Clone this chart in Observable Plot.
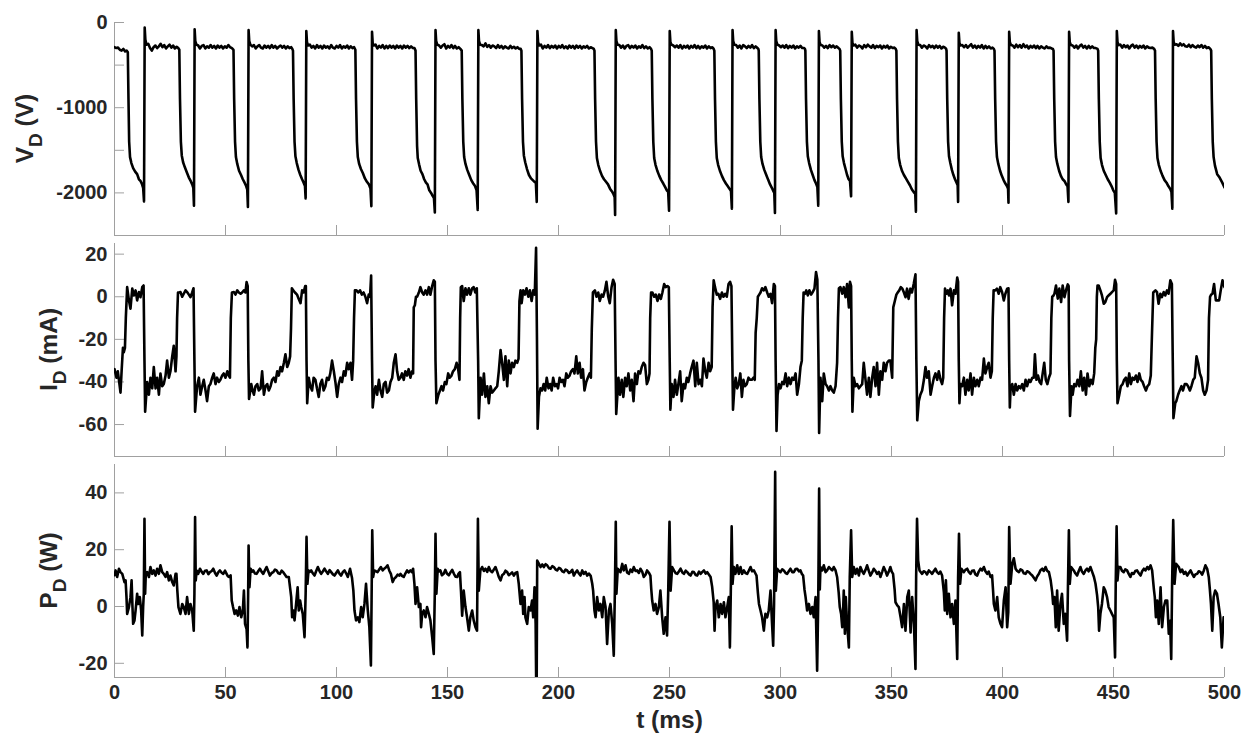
<!DOCTYPE html>
<html>
<head>
<meta charset="utf-8">
<script src="https://cdn.jsdelivr.net/npm/d3@7"></script>
<script src="https://cdn.jsdelivr.net/npm/@observablehq/plot@0.6"></script>
<style>
  body { margin: 0; background: #fff; }
  #chart { position: relative; width: 1244px; height: 740px; overflow: hidden; background: #fff; }
  #chart svg { position: absolute; left: 0; }
</style>
</head>
<body>
<div id="chart"></div>
<script>
// ---- axis ticks ----
const timeTicks = [0, 50, 100, 150, 200, 250, 300, 350, 400, 450, 500];
const vdTicks = [0, -500, -1000, -1500, -2000];
const vdTickLabels = [0, -1000, -2000];
const idTicks = [20, 0, -20, -40, -60];
const pdTicks = [40, 20, 0, -20];

// ---- discharge voltage V_D (V): [t (ms), V] ----
const vdPoints = [
[0,-290],[0.8,-300],[1.6,-295],[2.4,-320],[3.2,-330],[4,-310],[4.8,-340],[5.5,-330],
[6.0,-350],[6.3,-900],[6.6,-1400],[7.0,-1580],[7.6,-1650],[8.4,-1710],[9.3,-1750],[10.2,-1780],[11.0,-1840],[11.7,-1860],[12.3,-1890],[12.9,-1940],[13.3,-2100],[13.6,-60],[13.9,-200],[14.4,-260],
[15.2,-250],[16,-300],[16.8,-330],[17.6,-290],[18.4,-270],[19.2,-300],[20,-280],[20.8,-250],[21.6,-290],[22.4,-265],[23.2,-305],[24,-280],[24.8,-260],[25.6,-295],[26.4,-270],[27.2,-305],[28,-285],[28.7,-300],
[29.2,-320],[29.5,-900],[29.9,-1400],[30.3,-1560],[30.9,-1640],[31.7,-1700],[32.6,-1760],[33.5,-1820],[34.3,-1860],[35.0,-1900],[35.5,-1940],[35.8,-2150],[36.1,-80],[36.4,-220],[36.9,-260],
[37.7,-270],[38.5,-305],[39.3,-275],[40.1,-265],[40.9,-305],[41.7,-280],[42.5,-295],[43.3,-265],[44.1,-295],[44.9,-275],[45.7,-305],[46.5,-270],[47.3,-295],[48.1,-275],[48.9,-305],[49.7,-280],[50.5,-295],[51.3,-265],[52.1,-290],[52.9,-300],
[53.6,-320],[53.9,-900],[54.3,-1400],[54.7,-1580],[55.3,-1660],[56.1,-1740],[57,-1790],[57.8,-1840],[58.6,-1880],[59.3,-1920],[59.8,-1960],[60.1,-2165],[60.4,-90],[60.7,-220],[61.2,-260],
[62,-280],[62.8,-265],[63.6,-305],[64.4,-280],[65.2,-265],[66,-295],[66.8,-305],[67.6,-270],[68.4,-295],[69.2,-275],[70,-300],[70.8,-265],[71.6,-295],[72.4,-275],[73.2,-305],[74,-285],[74.8,-270],[75.6,-295],[76.4,-275],[77.2,-305],[78,-280],[78.8,-300],[79.6,-290],[80.1,-310],
[80.4,-330],[80.7,-900],[81.1,-1400],[81.5,-1570],[82.1,-1650],[82.9,-1730],[83.7,-1790],[84.5,-1840],[85.2,-1880],[85.8,-1920],[86.1,-2065],[86.4,-100],[86.7,-230],[87.2,-270],
[88,-260],[88.8,-295],[89.6,-275],[90.4,-305],[91.2,-265],[92,-295],[92.8,-275],[93.6,-305],[94.4,-270],[95.2,-295],[96,-280],[96.8,-305],[97.6,-265],[98.4,-295],[99.2,-305],[100,-275],[100.8,-295],[101.6,-265],[102.4,-305],[103.2,-280],[104,-295],[104.8,-270],[105.6,-305],[106.4,-280],[107.2,-300],[107.9,-290],
[108.5,-320],[108.8,-900],[109.2,-1400],[109.6,-1580],[110.2,-1660],[111,-1720],[111.9,-1770],[112.8,-1830],[113.7,-1870],[114.6,-1900],[115.3,-1950],[115.7,-2155],[116.0,-110],[116.3,-240],[116.8,-270],
[117.6,-260],[118.4,-305],[119.2,-275],[120,-295],[120.8,-265],[121.6,-305],[122.4,-275],[123.2,-300],[124,-270],[124.8,-295],[125.6,-275],[126.4,-305],[127.2,-270],[128,-295],[128.8,-275],[129.6,-305],[130.4,-270],[131.2,-295],[132,-275],[132.8,-300],[133.6,-280],[134.4,-300],[135.1,-300],
[135.6,-330],[135.9,-900],[136.3,-1450],[136.6,-1590],[137.2,-1665],[137.9,-1740],[138.7,-1780],[139.5,-1840],[140.3,-1880],[141,-1900],[141.8,-1970],[142.6,-2000],[143.3,-2035],[143.9,-2060],[144.3,-2230],[144.6,-90],[144.9,-220],[145.4,-260],
[146.2,-270],[147,-295],[147.8,-270],[148.6,-255],[149.4,-305],[150.2,-275],[151,-295],[151.8,-265],[152.6,-300],[153.4,-275],[154.2,-305],[155,-290],[155.8,-310],
[156.4,-330],[156.7,-900],[157.1,-1400],[157.5,-1580],[158.1,-1660],[158.9,-1730],[159.8,-1790],[160.7,-1850],[161.6,-1890],[162.4,-1920],[163.1,-1970],[163.6,-2200],[163.9,-90],[164.2,-220],[164.7,-260],
[165.5,-265],[166.3,-280],[167.1,-245],[167.9,-285],[168.7,-265],[169.5,-295],[170.3,-270],[171.1,-280],[171.9,-300],[172.7,-265],[173.5,-295],[174.3,-275],[175.1,-305],[175.9,-280],[176.7,-295],[177.5,-305],[178.3,-275],[179.1,-300],[179.9,-285],[180.7,-305],[181.5,-290],[182.3,-310],[183,-310],
[183.3,-330],[183.6,-900],[184,-1400],[184.4,-1560],[185,-1640],[185.8,-1720],[186.7,-1790],[187.6,-1830],[188.4,-1850],[189.2,-1870],[189.8,-1880],[190.2,-2105],[190.5,-100],[190.8,-230],[191.3,-270],
[192.1,-260],[192.9,-305],[193.7,-275],[194.5,-295],[195.3,-265],[196.1,-300],[196.9,-275],[197.7,-295],[198.5,-270],[199.3,-305],[200.1,-275],[200.9,-295],[201.7,-265],[202.5,-300],[203.3,-280],[204.1,-305],[204.9,-270],[205.7,-295],[206.5,-275],[207.3,-305],[208.1,-270],[208.9,-295],[209.7,-275],[210.5,-305],[211.3,-280],[212.1,-295],[212.9,-275],[213.7,-305],[214.5,-290],[215.3,-300],[215.9,-310],
[216.2,-330],[216.5,-900],[216.9,-1400],[217.3,-1590],[217.9,-1670],[218.7,-1740],[219.6,-1800],[220.5,-1840],[221.4,-1870],[222.3,-1900],[223.2,-1950],[224,-1980],[224.7,-2010],[225.3,-2050],[225.5,-2260],[225.8,-90],[226.1,-220],[226.6,-260],
[227.4,-265],[228.2,-295],[229,-270],[229.8,-305],[230.6,-275],[231.4,-265],[232.2,-300],[233,-275],[233.8,-295],[234.6,-270],[235.4,-305],[236.2,-280],[237,-295],[237.8,-265],[238.6,-300],[239.4,-280],[240.2,-305],[241,-290],[241.7,-310],
[242,-330],[242.3,-900],[242.7,-1400],[243.1,-1590],[243.7,-1670],[244.5,-1740],[245.4,-1800],[246.3,-1850],[247.2,-1890],[248,-1930],[248.8,-1970],[249.4,-1990],[249.8,-2210],[250.1,-100],[250.4,-230],[250.9,-260],
[251.7,-270],[252.5,-290],[253.3,-270],[254.1,-295],[254.9,-265],[255.7,-305],[256.5,-275],[257.3,-295],[258.1,-270],[258.9,-305],[259.7,-275],[260.5,-295],[261.3,-265],[262.1,-300],[262.9,-275],[263.7,-305],[264.5,-280],[265.3,-295],[266.1,-270],[266.9,-305],[267.7,-280],[268.5,-300],[269.3,-290],[269.9,-310],
[270.2,-330],[270.5,-900],[270.9,-1400],[271.3,-1590],[271.9,-1670],[272.7,-1740],[273.6,-1800],[274.5,-1850],[275.4,-1890],[276.2,-1920],[277,-1950],[277.7,-1980],[278.1,-2185],[278.4,-90],[278.7,-220],[279.2,-260],
[280,-265],[280.8,-295],[281.6,-270],[282.4,-305],[283.2,-265],[284,-280],[284.8,-300],[285.6,-275],[286.4,-295],[287.2,-265],[288,-300],[288.8,-280],[289.6,-300],[290,-310],
[290.2,-330],[290.5,-900],[290.9,-1400],[291.3,-1580],[291.9,-1660],[292.7,-1730],[293.6,-1790],[294.5,-1850],[295.3,-1900],[296.1,-1940],[296.8,-1980],[297.2,-2000],[297.5,-2235],[297.8,-90],[298.1,-220],[298.6,-260],
[299.4,-270],[300.2,-290],[301,-270],[301.8,-295],[302.6,-265],[303.4,-300],[304.2,-275],[305,-295],[305.8,-270],[306.6,-305],[307.4,-280],[308.2,-295],[309,-275],[309.8,-300],[310.6,-300],[311,-310],
[311.2,-330],[311.5,-900],[311.9,-1400],[312.3,-1570],[312.9,-1650],[313.7,-1730],[314.5,-1790],[315.3,-1850],[316,-1890],[316.6,-1930],[317,-2150],[317.3,-100],[317.6,-230],[318.1,-265],
[318.9,-270],[319.7,-295],[320.5,-275],[321.3,-300],[322.1,-265],[322.9,-290],[323.7,-270],[324.5,-295],[325.3,-280],[326.1,-300],[326.6,-310],
[326.9,-330],[327.2,-900],[327.6,-1400],[328,-1570],[328.6,-1650],[329.3,-1720],[330,-1790],[330.7,-1840],[331.3,-1860],[331.8,-2040],[332.1,-110],[332.4,-240],[332.9,-270],
[333.7,-260],[334.5,-295],[335.3,-270],[336.1,-280],[336.9,-305],[337.7,-265],[338.5,-290],[339.3,-260],[340.1,-280],[340.9,-295],[341.7,-265],[342.5,-300],[343.3,-275],[344.1,-290],[344.9,-270],[345.7,-305],[346.5,-275],[347.3,-295],[348.1,-270],[348.9,-305],[349.7,-285],[350.5,-300],[351.3,-295],[351.9,-310],
[352.2,-330],[352.5,-900],[352.9,-1400],[353.3,-1590],[353.9,-1670],[354.7,-1740],[355.6,-1790],[356.5,-1830],[357.4,-1870],[358.3,-1910],[359.2,-1960],[360,-1990],[360.7,-2010],[361,-2220],[361.3,-90],[361.6,-220],[362.1,-260],
[362.9,-265],[363.7,-295],[364.5,-270],[365.3,-280],[366.1,-305],[366.9,-265],[367.7,-290],[368.5,-275],[369.3,-300],[370.1,-270],[370.9,-295],[371.7,-275],[372.5,-305],[373.3,-285],[374.1,-295],[374.6,-310],
[374.8,-330],[375.1,-900],[375.5,-1400],[375.9,-1570],[376.5,-1650],[377.2,-1730],[377.9,-1790],[378.6,-1840],[379.3,-1880],[379.8,-1910],[380,-2105],[380.3,-120],[380.6,-240],[381.1,-270],
[381.9,-265],[382.7,-290],[383.5,-265],[384.3,-295],[385.1,-275],[385.9,-255],[386.7,-295],[387.5,-270],[388.3,-300],[389.1,-275],[389.9,-295],[390.7,-265],[391.5,-305],[392.3,-275],[393.1,-300],[393.9,-280],[394.7,-305],[395.5,-295],[396.1,-310],
[396.4,-330],[396.7,-900],[397.1,-1400],[397.5,-1580],[398.1,-1660],[398.9,-1740],[399.7,-1800],[400.5,-1850],[401.3,-1890],[402,-1920],[402.5,-1950],[402.7,-2115],[403,-110],[403.3,-230],[403.8,-265],
[404.6,-270],[405.4,-295],[406.2,-260],[407,-290],[407.8,-265],[408.6,-295],[409.4,-255],[410.2,-290],[411,-270],[411.8,-305],[412.6,-275],[413.4,-295],[414.2,-270],[415,-300],[415.8,-275],[416.6,-305],[417.4,-280],[418.2,-295],[419,-305],[419.8,-280],[420.6,-300],[421.4,-295],[422.2,-305],[422.7,-310],
[423,-330],[423.3,-900],[423.7,-1400],[424.1,-1580],[424.7,-1660],[425.5,-1740],[426.3,-1800],[427.1,-1840],[427.9,-1860],[428.7,-1900],[429.3,-1920],[429.7,-2105],[430,-110],[430.3,-230],[430.8,-265],
[431.6,-270],[432.4,-295],[433.2,-270],[434,-305],[434.8,-275],[435.6,-260],[436.4,-295],[437.2,-275],[438,-305],[438.8,-275],[439.6,-300],[440.4,-280],[441.2,-300],[442,-300],[442.8,-310],
[443.1,-330],[443.4,-900],[443.8,-1400],[444.2,-1590],[444.8,-1670],[445.6,-1740],[446.5,-1790],[447.4,-1840],[448.3,-1880],[449.1,-1920],[449.9,-1970],[450.6,-2000],[451.2,-2240],[451.5,-100],[451.8,-230],[452.3,-265],
[453.1,-260],[453.9,-295],[454.7,-265],[455.5,-290],[456.3,-270],[457.1,-305],[457.9,-275],[458.7,-260],[459.5,-295],[460.3,-270],[461.1,-300],[461.9,-275],[462.7,-295],[463.5,-270],[464.3,-305],[465.1,-280],[465.9,-295],[466.7,-300],[467.5,-295],[468.3,-310],
[468.7,-330],[469,-900],[469.4,-1400],[469.8,-1590],[470.4,-1670],[471.2,-1740],[472.1,-1800],[473,-1850],[473.9,-1880],[474.7,-1920],[475.5,-1950],[476.1,-1990],[476.5,-2185],[476.8,-100],[477.1,-230],[477.6,-260],
[478.4,-255],[479.2,-275],[480,-245],[480.8,-270],[481.6,-255],[482.4,-280],[483.2,-285],[484,-260],[484.8,-290],[485.6,-265],[486.4,-285],[487.2,-295],[488,-270],[488.8,-290],[489.6,-265],[490.4,-295],[491.2,-275],[492,-300],[492.8,-290],[493.6,-310],
[494,-330],[494.3,-900],[494.7,-1400],[495.1,-1580],[495.7,-1680],[496.7,-1780],[497.8,-1820],[499,-1880],[500,-1935]
];

// ---- discharge current I_D (mA): [t (ms), mA] ----
const idPoints = [
[0,-34],[0.9,-38],[1.5,-35],[2.1,-40],[2.7,-45],[3.2,-35],[3.8,-24],[4.2,-26],[4.7,-24],[5.1,-10],[5.7,4.5],
[6.5,-1.7],[7.2,-5.6],[8,3.8],[8.7,0.6],[9.5,3],[10.2,-1.7],[11,2.2],[11.7,-0.2],[12.5,4.5],[13.1,5.3],
[13.5,-30],[13.8,-54],
[14.7,-40],[15.5,-46],[16.2,-38],[17,-43],[17.7,-33],[18.5,-43],[19.2,-38],[20,-46],[20.7,-36],[21.5,-42],[22.2,-41],[23,-37],[23.7,-30],[24.5,-38],[25.2,-35],[26,-28],[26.7,-23],[27.5,-35],[27.9,-28],
[28.2,-10],[28.6,2],
[29.2,2],[29.7,2.2],[30.5,0],[31.2,1.4],[32,3],[32.7,2.2],[33.5,1],[34.2,-0.2],[35,2],[35.6,4],
[36,-30],[36.3,-54],
[37.2,-42],[38,-38],[38.7,-46],[39.5,-42],[40.2,-39],[41,-44],[41.7,-49],[42.5,-42],[43.2,-41],[44,-38],[44.7,-36],[45.5,-41],[46.2,-38],[47,-40],[47.7,-39],[48.5,-37],[49.2,-36],[50,-38],[50.8,-35],[51.5,-37],[52,-38],
[52.4,-10],[52.9,2],
[53.8,2.2],[54.5,1],[55.3,3],[56,2],[56.8,1.4],[57.5,2],[58.3,3],[59,2],[59.5,6.9],[60,5],
[60.3,-30],[60.6,-48],
[61.6,-41],[62.2,-44],[62.8,-46],[63.5,-42],[64.3,-41],[65,-44],[65.8,-43],[66.5,-35],[67.3,-46],[68,-42],[68.8,-41],[69.5,-44],[70.3,-42],[71,-39],[71.8,-38],[72.5,-40],[73.3,-35],[74,-37],[74.8,-33],[75.5,-35],[76.3,-31],[77,-27],[77.8,-33],[78.5,-31],[79.1,-28],
[79.5,-15],[79.9,4],
[80.5,3],[81.3,2],[82.2,1],[83,-1],[83.8,-3],[84.5,3],[85.2,2],[85.9,5],[86.2,5],
[86.5,-30],[86.8,-50],
[87.5,-38],[88.2,-42],[89,-44],[89.7,-38],[90.5,-39],[91.2,-43],[92,-47],[92.7,-41],[93.5,-39],[94.2,-44],[95,-42],[95.7,-38],[96.5,-39],[97.2,-36],[98,-30],[98.8,-35],[99.5,-40],[100.3,-47],[101,-41],[101.8,-38],[102.5,-40],[103.3,-35],[104,-37],[104.8,-31],[105.5,-34],[106.3,-31],[107,-39],[107.5,-30],
[107.9,-10],[108.3,3],
[109,3],[109.8,2],[110.6,3],[111.4,1],[112.2,2],[113,0],[113.8,-3],[114.5,1],[115.1,0],[115.6,10],
[116,-30],[116.3,-52],
[117,-45],[117.6,-42],[118.3,-46],[119.1,-39],[119.8,-44],[120.6,-47],[121.3,-41],[122.1,-40],[122.8,-45],[123.6,-44],[124.3,-40],[125.1,-38],[125.8,-31],[126.6,-27],[127.3,-35],[128,-39],[128.8,-38],[129.5,-36],[130.3,-39],[131,-35],[131.8,-37],[132.5,-34],[133.3,-38],[134,-35],[134.5,-36],
[134.8,-5],[135.3,-4],[135.8,0],
[136.3,0],[137.1,2],[137.8,4.5],[138.6,2],[139.3,1],[140.1,3],[140.8,1],[141.6,4.5],[142.3,1],[143.1,5],[143.8,7.7],[144.3,7],
[144.6,-30],[145,-50],
[145.9,-46],[146.6,-44],[147.3,-42],[148,-44],[148.8,-40],[149.5,-41],[150.3,-36],[151,-38],[151.8,-37],[152.5,-35],[153.3,-34],[154.1,-31],[154.8,-34],[155.4,-39],
[155.7,-10],[156,4.5],
[156.6,5],[157.3,-2],[158.1,4],[158.8,1],[159.6,4],[160.3,1],[161.1,4],[161.8,4.5],[162.5,2],[163.2,4],
[163.8,-30],[164.1,-57],
[164.9,-38],[165.6,-46],[166.4,-36],[167.1,-47],[167.9,-42],[168.6,-50],[169.4,-42],[170.1,-45],[170.9,-44],[171.6,-43],[172.4,-42],[173.1,-35],[173.9,-25],[174.6,-31],[175.4,-39],[176.1,-28],[176.9,-42],[177.6,-30],[178.4,-36],[179.1,-31],[179.9,-33],[180.6,-30],[181.4,-31],[182,-29],
[182.4,-2],[182.9,3],
[183.4,-3],[184.1,3],[184.9,1],[185.6,4],[186.4,0],[187.1,3],[187.9,-2],[188.6,3],[189.3,1],[189.9,23],[190.3,-20],[190.6,-62],
[191.2,-47],[191.9,-43],[192.6,-44],[193.3,-41],[194,-44],[194.7,-38],[195.5,-43],[196.2,-41],[196.9,-44],[197.6,-38],[198.4,-42],[199.1,-41],[199.8,-43],[200.5,-38],[201.3,-40],[202,-39],[202.7,-42],[203.5,-36],[204.2,-38],[205,-37],[205.7,-35],[206.5,-34],[207.2,-36],[208,-28],[208.7,-36],[209.5,-31],[210.2,-38],[211,-34],[211.7,-44],[212.5,-40],[213.2,-38],[214,-36],[214.6,-38],
[215,-15],[215.5,2],
[216.4,3],[217.1,0],[217.9,2],[218.6,-2],[219.4,1],[220.1,0],[220.9,3],[221.6,7],[222.4,0],[223.1,-3],[223.9,4.5],[224.6,8],[225.3,6],
[225.7,-30],[226,-55],
[227,-38],[227.7,-46],[228.5,-39],[229.2,-47],[230,-38],[230.7,-42],[231.5,-36],[232.3,-44],[233,-39],[233.8,-49],[234.5,-36],[235.3,-41],[236,-35],[236.8,-36],[237.5,-33],[238.3,-31],[239,-32],[239.8,-41],[240.5,-39],[241,-36],
[241.3,-10],[241.7,2],
[242.3,2],[243.1,0],[243.8,1],[244.6,-2],[245.3,1],[246.1,-1],[246.8,2],[247.6,6],[248.3,4.5],[249.1,5],[249.7,4.5],
[250.1,-30],[250.4,-53],
[251,-41],[251.8,-47],[252.5,-39],[253.3,-46],[254,-41],[254.8,-35],[255.5,-49],[256.3,-41],[257,-43],[257.8,-38],[258.5,-40],[259.3,-36],[260,-33],[260.8,-30],[261.6,-42],[262.3,-31],[263.1,-41],[263.8,-39],[264.6,-42],[265.3,-29],[266.1,-35],[266.8,-38],[267.6,-31],[268.3,-35],[269,-33],
[269.4,-5],[269.9,7.7],
[270.5,4.5],[271.3,1],[272,1.4],[272.8,-1],[273.6,2],[274.3,0],[275.1,1.4],[275.8,0],[276.6,6],[277.3,7],[277.9,5],
[278.3,-30],[278.6,-53],
[279.2,-43],[279.8,-38],[280.5,-43],[281.2,-41],[281.9,-36],[282.6,-47],[283.3,-39],[284,-42],[284.8,-41],[285.6,-38],[286.3,-39],[287.1,-39],[287.8,-38],[288.4,-39],
[288.8,-17],[289.3,-10],[289.8,0],
[290.4,1],[291,2],[291.7,4],[292.5,3],[293.2,4.5],[294,2],[294.7,0],[295.5,1.4],[296.2,-3],[297,6],[297.5,5],
[297.8,-30],[298.2,-63],
[298.7,-46],[299.3,-41],[300,-43],[300.8,-40],[301.5,-41],[302.3,-36],[303,-42],[303.8,-38],[304.5,-41],[305.3,-38],[306,-39],[306.8,-36],[307.5,-46],[308.3,-41],[309,-33],[309.6,-30],
[310,-10],[310.4,2],
[311,1.4],[311.6,3],[312.3,0.6],[313,3],[313.8,1],[314.5,2.2],[315.3,3.8],[316,11.6],[316.6,8],
[317.1,-30],[317.4,-64],
[318,-38],[318.8,-49],[319.5,-36],[320.3,-41],[321,-42],[321.8,-44],[322.5,-42],[323.3,-44],[324,-45],[324.8,-42],[325.5,-31],
[325.9,-10],[326.3,4],
[327,4.5],[327.8,1.4],[328.5,4.5],[329.3,-0.2],[330,6],[330.8,-5],[331.3,7],[331.8,5],
[332.1,-30],[332.4,-54],
[333,-38],[333.8,-42],[334.5,-41],[335.3,-43],[336,-42],[336.8,-41],[337.5,-31],[338.3,-39],[339,-46],[339.8,-38],[340.5,-47],[341.3,-38],[342,-33],[342.8,-42],[343.5,-31],[344.3,-46],[345,-35],[345.8,-39],[346.5,-31],[347.3,-35],[348,-31],[348.8,-30],[349.5,-30],[350.3,-38],
[350.8,-5],[351.5,-2],[352.2,1],
[352.8,2],[353.5,3],[354.2,4.5],[354.9,3.8],[355.6,2],[356.3,-0.2],[357,3.8],[357.7,-1],[358.5,3.8],[359.2,2],[360,6],[360.8,10.5],
[361.2,-30],[361.6,-58],
[362.3,-49],[363,-46],[363.8,-44],[364.6,-39],[365.3,-33],[366,-38],[366.8,-35],[367.6,-46],[368.3,-42],[369.1,-38],[369.8,-36],[370.6,-39],[371.3,-35],[372.1,-39],[372.8,-41],[373.3,-38],
[373.7,-10],[374.1,3.8],
[374.8,1.4],[375.4,3],[375.9,0.6],[376.6,3.8],[377.3,-4],[378.1,3],[378.8,1.4],[379.6,9],[380,7],
[380.3,-30],[380.6,-50],
[381.1,-41],[381.8,-42],[382.6,-38],[383.3,-46],[384.1,-39],[384.8,-44],[385.6,-36],[386.3,-46],[387.1,-38],[387.8,-42],[388.6,-39],[389.3,-42],[390.1,-38],[390.8,-39],[391.6,-29],[392.3,-36],[393.1,-33],[393.8,-31],[394.6,-38],[395.2,-35],
[395.6,-10],[396,3],
[396.8,3],[397.5,3.8],[398.3,1.4],[399,4.5],[399.8,2.2],[400.6,-1.7],[401.3,1.4],[402.1,3.8],[402.7,4],
[403,-30],[403.3,-52],
[403.6,-44],[404.4,-41],[405.1,-46],[405.9,-41],[406.6,-44],[407.4,-42],[408.1,-43],[408.9,-41],[409.6,-44],[410.4,-39],[411.1,-42],[411.9,-39],[412.6,-40],[413.4,-38],[414.1,-38],[414.6,-27],[415.3,-39],[416,-37],[416.7,-40],[417.4,-41],[418.1,-36],[418.8,-31],[419.5,-39],[420.2,-41],[420.9,-38],[421.6,-36],
[422,-10],[422.4,0],
[423,0.6],[423.4,1.4],[424.1,5.3],[424.9,-0.9],[425.6,3.8],[426.4,-2.5],[427.1,5.3],[427.9,-0.2],[428.6,3],[429.4,5.8],[429.8,5],
[430,-30],[430.4,-56],
[431.1,-42],[431.6,-46],[432.3,-41],[433.1,-42],[433.8,-39],[434.6,-42],[435.3,-35],[436.1,-44],[436.8,-38],[437.6,-46],[438.3,-36],[439.1,-42],[439.8,-39],[440.6,-41],[441.3,-36],[441.8,-24],[442.2,-20],
[442.5,0],[442.8,5.3],
[443.3,5.3],[444.1,3],[444.8,0.6],[445.6,-3.3],[446.3,-2.5],[447.1,-0.2],[447.8,0.6],[448.6,1.4],[449.3,2.2],[450.1,3],[450.7,8],[451.2,6],
[451.5,-30],[451.8,-50],
[452.6,-46],[453.3,-42],[454.1,-41],[454.8,-39],[455.6,-38],[456.3,-42],[457.1,-36],[457.8,-41],[458.6,-38],[459.3,-39],[460.1,-37],[460.8,-40],[461.6,-36],[462.3,-39],[463.1,-40],[463.8,-42],[464.6,-44],[465.3,-42],[466.1,-41],[466.8,-37],
[467.4,-15],[467.9,2],
[468.9,3],[469.6,2.2],[470.3,-3.3],[471.1,1.4],[471.8,-0.2],[472.6,2.2],[473.3,0.6],[474.1,3],[474.8,1.4],[475.6,7.7],[476.3,6],
[476.7,-30],[477,-57],
[477.8,-50],[478.3,-49],[479.1,-46],[479.8,-44],[480.6,-42],[481.3,-44],[482.1,-41],[482.9,-41],[483.6,-42],[484.4,-44],[485.1,-42],[485.9,-39],[486.6,-38],[487.4,-28],[488.1,-31],[488.9,-36],[489.6,-38],[490.4,-44],[491.1,-46],[491.9,-44],[492.6,-39],
[493,-10],[493.5,0],
[494,1],[494.6,1.4],[495.3,6],[496.1,-1.7],[496.8,-1.7],[497.6,-1.7],[498.3,3],[499.1,7.7],[500,4.5]
];

// ---- discharge power P_D (W): [t (ms), W] ----
const pdPoints = [
[0,11],[0.5,12.7],[1.2,10.4],[2,13.3],[2.7,12.1],[3.5,11.5],[4.5,8.6],[5,9.2],
[5.4,3.3],[5.7,-2.6],[6.5,-0.2],[7.2,3.3],[7.7,9.2],[8.1,-0.2],[8.4,-6.1],[9,-4.9],[9.5,-1.4],[10.2,4.5],[10.7,0.9],[11.4,3.3],[12,-1.4],[12.5,-10.2],[12.9,-0.2],[13.2,4.5],[13.5,30.9],[13.8,4.5],[14.1,11.5],
[14.7,12.1],[15.5,10.4],[16.2,13.9],[17,11.5],[17.7,12.7],[18.5,10.9],[19.2,13.3],[20,11.5],[20.7,14.5],[21.5,12.1],[22.2,11.5],[23,10.4],[23.7,12.1],[24.5,9.2],[25.2,10.9],[26,8.6],[26.7,7.4],[27.5,11.5],[27.9,11.5],
[28.3,5.6],[28.8,-0.2],[29.7,-2.6],[30.5,0.9],[31.2,-0.2],[32,-2.6],[32.7,3.3],[33.5,-2.6],[34.2,0.9],[35,-1.4],[35.7,-8.5],[36,4.5],[36.3,31.5],[36.6,9.2],[37,12.7],
[37.7,11.5],[38.5,13.3],[39.3,12.2],[40,11.5],[40.8,12.6],[41.5,12.7],[42.3,11.4],[43,12.1],[43.8,12.5],[44.5,13.3],[45.3,11.8],[46,10.9],[46.8,12.1],[47.5,12.7],[48.3,11.9],[49,11.5],[49.8,12.6],[50.5,11.5],[51.1,10.6],[51.7,10.4],[52.3,11],
[52.8,2.1],[53.4,-0.2],[54.1,-2.6],[54.8,-1.4],[55.6,-3.2],[56.3,-0.2],[57.1,-3.8],[57.8,-1.4],[58.3,5.6],[58.8,-6.1],[59.5,-8],[59.9,-14.4],[60.2,4.5],[60.4,21.5],[60.8,6.8],[61.3,13.3],
[62,12.3],[62.5,12.7],[63.3,11.6],[64,11.5],[64.8,12.5],[65.5,13.3],[66.3,12.2],[67,11.5],[67.8,12.8],[68.5,13.9],[69.3,12.3],[70,10.9],[70.8,11.8],[71.5,12.1],[72.3,13],[73,12.7],[73.8,11.7],[74.5,11.5],[75.3,12.6],[76,12.1],[76.8,11.2],[77.5,10.4],[78.5,10.4],
[79.6,3.3],[80,-3.8],[80.6,-1.4],[81.1,-4.9],[81.8,0.9],[82.5,6.8],[83,-1.4],[83.6,2.1],[84.1,-0.2],[84.8,-2.6],[85.6,-10.8],[86.1,4.5],[86.5,24.5],[86.9,8],[87.4,12.7],
[88,12.2],[88.6,12.7],[89.4,11.6],[90.1,10.9],[90.9,12.6],[91.6,13.9],[92.4,12.4],[93.1,11.5],[93.9,12.4],[94.6,13.3],[95.4,12.3],[96.1,11.5],[96.9,12.8],[97.6,12.1],[98.4,11.3],[99.1,10.9],[99.9,11.9],[100.6,12.7],[101.4,11.5],[102.1,10.9],[102.9,12.2],[103.6,12.7],[104.4,11.6],[105.1,10.4],[106.1,13.3],[107,10],
[107.6,5.6],[108.1,-1.4],[108.8,-4.9],[109.6,-3.8],[110.3,-5.5],[111.1,-0.2],[111.8,-3.8],[112.6,0.9],[113.3,8],[114.1,-1.4],[114.8,-7.3],[115.5,-20.8],[115.8,2.1],[116.1,26.8],[116.5,10.4],[117,12.7],
[117.8,12.4],[118.5,12.1],[119.3,13.1],[120,13.9],[120.8,12.7],[121.5,13.3],[122.3,13.8],[123,14.5],[123.8,12.6],[124.5,11.5],[125.3,8.6],[126,9.8],[126.8,10.4],[127.5,11.2],[128.3,10.9],[128.8,11.5],[129.5,10.8],[130.3,10.4],[131,11.6],[131.8,12.7],[132.5,12],[133.3,12.7],[134,12.1],[134.5,13.3],[135.1,8],
[135.6,0.9],[136.3,6.8],[137.1,-0.2],[137.8,0.9],[138.1,-7.3],[138.6,-2.6],[139.3,-1.4],[140.1,-3.8],[140.8,-0.2],[141.6,-2.6],[142.3,-4.9],[143.1,-10.8],[143.8,-16.7],[144.3,5.6],[144.6,25.6],[145,4.5],[145.6,13.3],
[146.2,12.4],[146.8,12.7],[147.5,11],[148.3,11.5],[149,12.9],[149.8,11.5],[150.6,11],[151.4,12.1],[152.1,12.9],[152.9,11.5],[153.6,10.5],[154.4,10.4],[155,11.6],[155.6,12.1],
[156.1,5],[156.6,-3.2],[157.3,5.6],[158.1,-0.2],[158.8,-3.8],[159.6,-8.5],[160.3,-3.8],[161.1,-1.4],[161.8,-4.9],[162.6,-7.3],[163.3,-8.5],[163.7,30.9],[164.1,5.6],[164.8,12.7],
[165.6,13.9],[166.4,12.5],[167.1,13.3],[167.9,12.2],[168.6,13.9],[169.4,12.5],[170.1,12.1],[170.9,13],[171.6,13.9],[172.4,12.2],[173.1,10.4],[173.9,9.2],[174.6,11],[175.4,11.5],[176.1,12.6],[176.9,12.1],[177.6,11],[178.4,11.5],[179.1,12],[179.9,10.9],[180.6,11.8],[181.4,12.1],[182.1,8],
[182.9,0.9],[183.6,5.6],[184.1,-2.6],[184.7,3.3],[185.1,-3.8],[185.9,-6.1],[186.6,-0.2],[187.4,-1.4],[188.1,2.1],[188.6,-3.8],[189.2,6.8],[189.7,-6.1],[190.1,-40],[190.4,16.2],
[191.2,15],[191.9,13.9],[192.7,14.8],[193.4,13.9],[194.2,14.9],[194.9,14.5],[195.7,13.5],[196.4,13.3],[197.2,14.2],[197.9,13.9],[198.7,13],[199.4,12.7],[200.2,13.6],[200.9,13.3],[201.7,12.4],[202.4,12.1],[203.2,13],[203.9,12.7],[204.7,11.8],[205.4,12.1],[206.2,12.9],[206.9,10.9],[207.7,12],[208.4,12.7],[209.2,11.6],[209.9,10.9],[210.7,12.7],[211.4,11.5],[212.2,12.2],[212.9,10.9],[213.7,11.6],[214.5,10.8],
[215.2,8],[215.6,5.6],[216.2,-1.4],[216.7,-3.8],[217.4,3.3],[218.2,-1.4],[218.9,0.9],[219.7,-3.8],[220.4,3.3],[221.2,-0.2],[221.9,-13.2],[222.7,-1.4],[223.4,0.9],[224.2,-6.1],[224.9,-17.3],[225.4,5.6],[225.8,29.8],[226.1,4.5],[226.7,13.3],
[227.9,12.1],[228.7,15],[229.4,12.7],[230.2,14.5],[230.9,12],[231.7,11.5],[232.4,13],[233.2,12.2],[233.9,13.9],[234.7,12.5],[235.4,12.7],[236.2,11.8],[236.9,13.3],[237.7,12.3],[238.4,10.4],[239.2,11.2],[239.9,12.7],[240.7,11.9],[241.4,10.9],
[241.8,6],[242.2,2.1],[242.9,-1.4],[243.7,0.9],[244.4,-2.6],[245.2,-0.2],[245.9,5.6],[246.7,-3.8],[247.4,-9.6],[248.2,-3.8],[248.9,-10.2],[249.4,4.5],[250,29.8],[250.5,5.6],[251.2,13.9],
[252,12.7],[252.8,11.7],[253.5,11.5],[254.3,12.4],[255,13.3],[255.8,12],[256.5,11.5],[257.3,12.6],[258,12.1],[258.8,11.3],[259.5,10.9],[260.3,12.2],[261,12.1],[261.8,11.1],[262.5,10.9],[263.3,12.3],[264,11.5],[264.8,12.2],[265.5,12.7],[266.3,11.6],[267,12.1],[267.8,11.2],[268.5,10.4],
[269.2,7],[269.9,1.5],[270.3,-8.5],[270.7,-0.2],[271.5,2.1],[272.2,-3.8],[273,0.9],[273.7,-2.6],[274.5,1.5],[275.2,-3.8],[276,-0.2],[276.7,3.3],[277.2,-14.4],[277.6,4.5],[278,28.2],[278.4,8],[279,13.9],
[279.7,11.5],[280.5,14.5],[281.2,11.5],[282,13.9],[282.7,11.5],[283.5,12.7],[284.2,11.8],[285,11.5],[285.7,12.6],[286.5,13.9],[287.2,12.4],[288,12.7],[288.6,11.8],[289.2,10.9],
[289.8,5],[290.3,0.9],[291,-1.4],[291.7,-3.8],[292.5,-8.5],[293.2,-2.6],[294,-3.8],[294.7,-1.4],[295.5,5.6],[296.2,-6.1],[296.7,-13.8],[297.1,0.9],[297.6,47.4],[297.9,5.6],[298.5,13.3],
[299.2,12.6],[300,12.1],[300.8,13.1],[301.5,12.7],[302.3,11.8],[303,11.5],[303.8,12.5],[304.5,13.3],[305.3,12.1],[306,12.1],[306.8,13.2],[307.5,13.3],[308.3,12.4],[309,12.7],[309.6,11.5],[310.2,10.9],
[310.8,6],[311.3,3.3],[312,-1.4],[312.8,0.9],[313.5,-2.6],[314.3,-0.2],[315,-3.8],[315.8,3.3],[316.5,-22.6],[317,2.1],[317.4,41.5],[317.7,6],[318,13.9],
[318.8,12.7],[319.5,14.5],[320.3,12.1],[321,12.7],[321.8,13.9],[322.5,13.3],[323.3,12.7],[324,13.9],[324.8,12.7],[325.5,10.4],
[326.2,5],[326.7,-0.2],[327.3,-2.6],[327.8,-7.3],[328.2,-1.4],[328.5,5.6],[329,-9.6],[329.4,3.3],[330,-6.1],[330.8,-14.4],[331.2,10.4],[331.8,26.8],[332.3,10.4],[333,13.9],
[333.8,11.5],[334.5,13.3],[335.3,10.9],[336,13.9],[336.8,12.4],[337.5,11.5],[338.3,12.9],[339,14.5],[339.8,12.5],[340.5,10.9],[341.3,12],[342,13.3],[342.8,12.5],[343.5,11.5],[344.3,12.2],[345,10.4],[345.8,12.2],[346.5,13.9],[347.3,12.5],[348,10.9],[348.8,12.3],[349.5,13.9],[350.1,12.3],[350.7,11.5],
[351.4,6],[351.8,1.5],[352.6,0.4],[353.3,-0.2],[354.1,-3.8],[354.8,-7.3],[355.6,0.9],[356.3,-8.5],[357.1,3.3],[357.8,5.6],[358.6,-9.1],[359.3,3.3],[360.1,-6.1],[360.8,-22],[361.1,10.4],[361.5,30.9],[362,16.2],[362.6,12.7],
[363.8,11.5],[364.5,12.4],[365.3,12.1],[366,11.3],[366.8,12.7],[367.5,12.2],[368.3,11.5],[369,12.4],[369.8,13.3],[370.5,12.1],[371.3,11.5],[372,12.3],[372.8,10.9],
[373.6,5],[374,-1.4],[374.5,9.2],[375.1,-2.6],[375.8,4.5],[376.6,-3.8],[377.3,0.9],[378.1,-6.1],[378.8,2.1],[379.6,-18.5],[380,10.4],[380.4,25.6],[380.9,8],[381.5,13.3],
[382.6,12.1],[383.3,12.9],[384.1,13.3],[384.8,12.2],[385.6,11.5],[386.3,12.6],[387.1,12.7],[387.8,11.3],[388.6,10.9],[389.3,12.3],[390.1,13.3],[390.8,12.7],[391.6,13.9],[392.3,12.4],[393.1,11.5],[393.8,12.3],[394.6,10.4],[395.3,11],
[395.8,5],[396.1,0.9],[396.8,-1.4],[397.6,3.3],[398.3,-3.8],[399.1,-6.1],[399.8,-7.3],[400.6,2.1],[401.4,6.8],[402.1,-7.3],[402.6,-2],[403,28],[403.6,8],[404.4,15],[405.1,17],[405.9,13.3],
[406.6,12.5],[407.4,12.1],[408.1,13.1],[408.9,12.7],[409.6,11.7],[410.4,11.5],[411.1,12.4],[411.9,12.1],[412.6,11.5],[413.4,10.9],[414.2,10],[414.9,9.2],[415.6,10.6],[416.4,11.5],[417.1,12.8],[417.9,13.3],[418.6,12.5],[419.4,13.9],[420.1,12.6],[420.9,12.1],[421.7,9.2],
[422.4,5],[422.8,0.9],[423.4,3.3],[424,-7.3],[424.6,5.6],[425.3,-8.5],[426.1,0.9],[426.8,4.5],[427.6,-6.1],[428.3,-2.6],[429.1,-12],[429.5,8],[429.9,26.8],[430.3,8],[430.9,13.9],
[432.1,12.7],[432.8,11.7],[433.6,10.9],[434.3,12.4],[435.1,13.9],[435.8,12.3],[436.6,11.5],[437.3,12.6],[438.1,13.3],[438.8,12.4],[439.6,13.9],[440.4,12.2],[441.2,10.4],[441.9,8],
[442.6,4],[443.1,-0.2],[443.5,-8.5],[444.1,-2.6],[444.8,0.9],[445.6,6.8],[446.3,5.6],[447.1,3.3],[447.8,-0.2],[448.6,-1.4],[449.3,-2.6],[450.1,-3.8],[450.7,-17.9],[451,8],[451.4,28.2],[451.8,9.2],[452.3,13.9],
[453.1,13.9],[453.8,12.6],[454.6,12.1],[455.3,13.1],[456.1,12.7],[456.8,11.6],[457.6,10.4],[458.3,11.8],[459.1,11.5],[459.8,12.5],[460.6,12.7],[461.4,11.7],[462.2,10.9],[462.9,12.4],[463.7,13.3],[464.4,12.7],[465.2,13.9],[465.9,13.1],[466.7,14.5],[467.4,12.7],
[468.2,6],[468.6,3.3],[469.1,-3.8],[469.7,2.1],[470.4,-6.1],[471.2,6.8],[471.9,-7.3],[472.7,-0.2],[473.4,2.1],[474.2,2.1],[474.9,-9.6],[475.5,-5],[476,-18.5],[476.4,8],[476.9,30.4],[477.5,8],[478.2,15],
[479.4,13.9],[480.2,12.1],[480.9,13],[481.7,11.5],[482.4,12.2],[483.2,10.9],[483.9,11.8],[484.7,12.7],[485.4,11.6],[486.2,10.4],[486.9,11.3],[487.7,11.5],[488.4,12.4],[489.2,12.1],[489.9,11.2],[490.7,12.7],[491.4,14.5],[492.2,13.3],[492.9,10.4],
[493.4,6],[493.9,0.9],[494.5,-8.5],[495.1,3.3],[495.8,5.6],[496.6,4.5],[497.3,0.9],[498.1,-3.8],[498.8,-14.4],[499.6,-3.8],[500,-4.9]
];

// ---- layout and styling ----
const FONT = "'Liberation Sans', Arial, Helvetica, sans-serif";
const TEXT = "#262626";
const AXIS = "#a0a0a0";
const WIDTH = 1244, ML = 114, MR = 20, INNER_H = 213;
const INNER_W = WIDTH - ML - MR;

function panel({points, domain, ticks, labels, top, mt, mb, bottomAxis, name, sub, unit, labelX}) {
  const marks = [
    Plot.ruleX([0], {stroke: AXIS, strokeWidth: 1}),
    Plot.ruleY([domain[0]], {stroke: AXIS, strokeWidth: 1}),
    Plot.tickY(ticks, {y: d => d, stroke: AXIS, strokeWidth: 1, insetRight: INNER_W - 10}),
    Plot.tickX(timeTicks, {x: d => d, stroke: AXIS, strokeWidth: 1, insetTop: INNER_H - 10}),
    Plot.line(points, {x: d => d[0], y: d => d[1], stroke: "#000", strokeWidth: 2.6, strokeLinejoin: "round", clip: true}),
    Plot.text(labels, {y: d => d, text: d => String(d), frameAnchor: "left", textAnchor: "end", dx: -7,
      fontSize: 20, fontWeight: "bold", fill: TEXT, fontFamily: FONT})
  ];
  if (bottomAxis) {
    marks.push(
      Plot.text(timeTicks, {x: d => d, text: d => String(d), frameAnchor: "bottom", dy: 21,
        fontSize: 20, fontWeight: "bold", fill: TEXT, fontFamily: FONT}),
      Plot.text(["t (ms)"], {text: d => d, frameAnchor: "bottom", dy: 50,
        fontSize: 24.5, fontWeight: "bold", fill: TEXT, fontFamily: FONT})
    );
  }
  const svg = Plot.plot({
    width: WIDTH,
    height: mt + INNER_H + mb,
    marginLeft: ML, marginRight: MR, marginTop: mt, marginBottom: mb,
    style: {background: "transparent", overflow: "visible", fontFamily: FONT},
    x: {domain: [0, 500], axis: null},
    y: {domain, axis: null},
    marks
  });
  svg.style.top = top + "px";

  // rotated y label with a subscript
  const lbl = d3.select(svg).append("text")
    .attr("transform", `translate(${labelX},${mt + INNER_H / 2}) rotate(-90)`)
    .attr("text-anchor", "middle")
    .attr("font-family", FONT)
    .attr("font-size", 24.5)
    .attr("font-weight", "bold")
    .attr("fill", TEXT)
    .style("white-space", "pre");
  lbl.append("tspan").text(name);
  lbl.append("tspan").attr("font-size", 19).attr("dy", 9).text(sub);
  lbl.append("tspan").attr("dy", -9).text(" " + unit);
  return svg;
}

const chart = document.getElementById("chart");
chart.append(panel({points: vdPoints, domain: [-2500, 0], ticks: vdTicks, labels: vdTickLabels,
  top: 0, mt: 22, mb: 4, bottomAxis: false, name: "V", sub: "D", unit: "(V)", labelX: 33}));
chart.append(panel({points: idPoints, domain: [-75, 25], ticks: idTicks, labels: idTicks,
  top: 233, mt: 10, mb: 4, bottomAxis: false, name: "I", sub: "D", unit: "(mA)", labelX: 57}));
chart.append(panel({points: pdPoints, domain: [-25, 50], ticks: pdTicks, labels: pdTicks,
  top: 454, mt: 10, mb: 63, bottomAxis: true, name: "P", sub: "D", unit: "(W)", labelX: 57}));
</script>
</body>
</html>
